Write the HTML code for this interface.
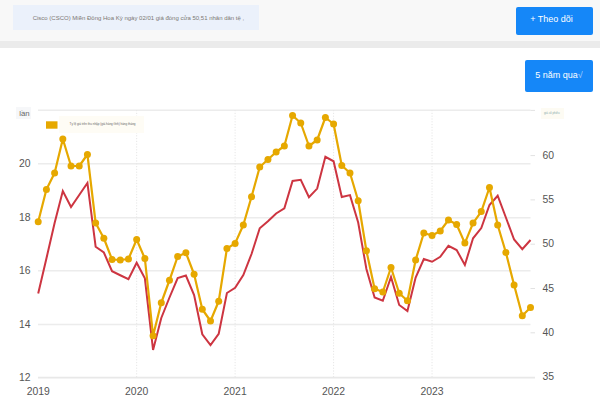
<!DOCTYPE html>
<html lang="vi"><head><meta charset="utf-8"><title>Cisco (CSCO)</title>
<style>
html,body{margin:0;padding:0;background:#fff;}
body{width:600px;height:404px;position:relative;overflow:hidden;font-family:"Liberation Sans",Arial,sans-serif;}
.hdr{position:absolute;left:0;top:0;width:600px;height:41px;background:#f8f8f8;}
.sep{position:absolute;left:0;top:41px;width:600px;height:6.5px;background:#ebebeb;}
.ttl{position:absolute;left:13px;top:5px;width:246px;height:25px;background:#ebf1fb;}
.btn{position:absolute;background:#1587f8;color:#fff;border-radius:2px;font-size:9px;text-align:center;white-space:nowrap;}
.b1{left:516px;top:6.5px;width:71px;padding-right:6px;height:28px;line-height:25.5px;}
.b2{left:525px;top:60px;width:68px;height:31.5px;line-height:30px;}
.b2 i{font-style:normal;opacity:.6}
svg{position:absolute;left:0;top:0;}
</style></head><body>
<div class="hdr"></div><div class="sep"></div>
<div class="ttl"></div>
<div class="btn b1">+ Theo dõi</div>
<div class="btn b2">5 năm qua<i>√</i></div>
<svg width="600" height="404" viewBox="0 0 600 404">
<text x="32.7" y="19.5" font-size="6" fill="#7c7873" font-family="Liberation Sans, Arial, sans-serif">Cisco (CSCO) Miền Đông Hoa Kỳ ngày 02/01 giá đóng cửa 50,51 nhân dân tệ ,</text>
<g stroke="#ececec" stroke-width="1.5"><line x1="38" x2="530.5" y1="110.2" y2="110.2"/><line x1="38" x2="530.5" y1="163.8" y2="163.8"/><line x1="38" x2="530.5" y1="217.7" y2="217.7"/><line x1="38" x2="530.5" y1="270.8" y2="270.8"/><line x1="38" x2="530.5" y1="324.4" y2="324.4"/></g>
<line x1="38" x2="535" y1="377.7" y2="377.7" stroke="#e8e8e8" stroke-width="1.8"/>
<g stroke="#e6e6e6" stroke-width="1" stroke-dasharray="1.2,1.6"><line x1="136.66" x2="136.66" y1="110" y2="377.5"/><line x1="235.12" x2="235.12" y1="110" y2="377.5"/><line x1="333.58" x2="333.58" y1="110" y2="377.5"/><line x1="432.04" x2="432.04" y1="110" y2="377.5"/></g>
<g stroke="#e2e2e2" stroke-width="1"><line x1="530.5" x2="535" y1="110.4" y2="110.4"/><line x1="530.5" x2="535" y1="155.6" y2="155.6"/><line x1="530.5" x2="535" y1="199.9" y2="199.9"/><line x1="530.5" x2="535" y1="244.2" y2="244.2"/><line x1="530.5" x2="535" y1="288.5" y2="288.5"/><line x1="530.5" x2="535" y1="332.8" y2="332.8"/></g>
<rect x="16" y="107" width="15" height="12" fill="#f6f7f9"/>
<text x="19.2" y="115.8" font-size="7.8" fill="#666" font-family="Liberation Sans, Arial, sans-serif">lần</text>
<rect x="59" y="116" width="85" height="17" fill="#fefcf5"/>
<rect x="46" y="121.3" width="11.5" height="7.4" fill="#e6a800"/>
<text x="69.6" y="125" font-size="3" fill="#666" font-family="Liberation Sans, Arial, sans-serif">Tỷ lệ giá trên thu nhập (giá hàng tĩnh) hàng tháng</text>
<rect x="541" y="108" width="23" height="11" fill="#fdfbf3"/>
<text x="544" y="114.2" font-size="2.9" fill="#8aa" font-family="Liberation Sans, Arial, sans-serif">giá cổ phiếu</text>
<g font-size="10.4" fill="#555" font-family="Liberation Sans, Arial, sans-serif"><text x="30.6" y="167.3" text-anchor="end">20</text><text x="30.6" y="221.0" text-anchor="end">18</text><text x="30.6" y="274.2" text-anchor="end">16</text><text x="30.6" y="327.6" text-anchor="end">14</text><text x="30.6" y="381.1" text-anchor="end">12</text><text x="542.6" y="158.6">60</text><text x="542.6" y="203.0">55</text><text x="542.6" y="247.3">50</text><text x="542.6" y="291.7">45</text><text x="542.6" y="336.0">40</text><text x="542.6" y="380.4">35</text><text x="38.20" y="394.9" text-anchor="middle">2019</text><text x="136.66" y="394.9" text-anchor="middle">2020</text><text x="235.12" y="394.9" text-anchor="middle">2021</text><text x="333.58" y="394.9" text-anchor="middle">2022</text><text x="432.04" y="394.9" text-anchor="middle">2023</text></g>
<polyline fill="none" stroke="#cd3541" stroke-width="2" stroke-linejoin="miter" points="38.20,293.40 46.41,258.50 54.61,223.00 62.82,191.10 71.02,207.00 79.22,195.00 87.43,183.00 95.64,246.75 103.84,252.50 112.05,271.25 120.25,275.25 128.45,279.25 136.66,262.75 144.87,278.40 153.07,350.00 161.28,318.00 169.48,297.50 177.69,278.00 185.89,275.50 194.10,295.00 202.30,334.25 210.50,345.00 218.71,333.75 226.92,293.00 235.12,287.75 243.32,275.00 251.53,254.00 259.74,228.25 267.94,221.25 276.14,213.50 284.35,208.25 292.56,181.00 300.76,179.75 308.96,197.25 317.17,188.60 325.38,156.75 333.58,161.25 341.78,197.00 349.99,195.10 358.19,222.50 366.40,269.00 374.61,297.50 382.81,300.75 391.01,277.00 399.22,305.00 407.43,311.00 415.63,277.50 423.83,259.00 432.04,261.75 440.25,256.75 448.45,245.75 456.65,250.00 464.86,265.00 473.06,238.25 481.27,228.10 489.47,205.00 497.68,195.75 505.88,217.50 514.09,239.50 522.30,249.25 530.50,240.00"/>
<polyline fill="none" stroke="#e6a800" stroke-width="2.2" stroke-linejoin="round" points="38.20,221.75 46.41,189.40 54.61,173.00 62.82,139.00 71.02,166.00 79.22,166.00 87.43,154.50 95.64,223.00 103.84,238.25 112.05,259.50 120.25,260.00 128.45,259.00 136.66,239.50 144.87,258.50 153.07,335.75 161.28,302.75 169.48,280.25 177.69,256.50 185.89,252.75 194.10,274.25 202.30,309.25 210.50,321.00 218.71,301.25 226.92,248.50 235.12,243.40 243.32,225.00 251.53,196.75 259.74,167.00 267.94,159.50 276.14,152.00 284.35,146.00 292.56,115.50 300.76,123.00 308.96,146.00 317.17,140.00 325.38,117.50 333.58,124.00 341.78,165.50 349.99,173.00 358.19,200.75 366.40,250.75 374.61,288.75 382.81,292.00 391.01,267.50 399.22,293.25 407.43,300.75 415.63,260.00 423.83,233.00 432.04,235.50 440.25,231.00 448.45,220.00 456.65,224.50 464.86,243.10 473.06,223.10 481.27,211.60 489.47,187.50 497.68,225.00 505.88,252.50 514.09,285.00 522.30,315.75 530.50,307.50"/>
<g fill="#e6a800"><circle cx="38.20" cy="221.75" r="3.5"/><circle cx="46.41" cy="189.40" r="3.5"/><circle cx="54.61" cy="173.00" r="3.5"/><circle cx="62.82" cy="139.00" r="3.5"/><circle cx="71.02" cy="166.00" r="3.5"/><circle cx="79.22" cy="166.00" r="3.5"/><circle cx="87.43" cy="154.50" r="3.5"/><circle cx="95.64" cy="223.00" r="3.5"/><circle cx="103.84" cy="238.25" r="3.5"/><circle cx="112.05" cy="259.50" r="3.5"/><circle cx="120.25" cy="260.00" r="3.5"/><circle cx="128.45" cy="259.00" r="3.5"/><circle cx="136.66" cy="239.50" r="3.5"/><circle cx="144.87" cy="258.50" r="3.5"/><circle cx="153.07" cy="335.75" r="3.5"/><circle cx="161.28" cy="302.75" r="3.5"/><circle cx="169.48" cy="280.25" r="3.5"/><circle cx="177.69" cy="256.50" r="3.5"/><circle cx="185.89" cy="252.75" r="3.5"/><circle cx="194.10" cy="274.25" r="3.5"/><circle cx="202.30" cy="309.25" r="3.5"/><circle cx="210.50" cy="321.00" r="3.5"/><circle cx="218.71" cy="301.25" r="3.5"/><circle cx="226.92" cy="248.50" r="3.5"/><circle cx="235.12" cy="243.40" r="3.5"/><circle cx="243.32" cy="225.00" r="3.5"/><circle cx="251.53" cy="196.75" r="3.5"/><circle cx="259.74" cy="167.00" r="3.5"/><circle cx="267.94" cy="159.50" r="3.5"/><circle cx="276.14" cy="152.00" r="3.5"/><circle cx="284.35" cy="146.00" r="3.5"/><circle cx="292.56" cy="115.50" r="3.5"/><circle cx="300.76" cy="123.00" r="3.5"/><circle cx="308.96" cy="146.00" r="3.5"/><circle cx="317.17" cy="140.00" r="3.5"/><circle cx="325.38" cy="117.50" r="3.5"/><circle cx="333.58" cy="124.00" r="3.5"/><circle cx="341.78" cy="165.50" r="3.5"/><circle cx="349.99" cy="173.00" r="3.5"/><circle cx="358.19" cy="200.75" r="3.5"/><circle cx="366.40" cy="250.75" r="3.5"/><circle cx="374.61" cy="288.75" r="3.5"/><circle cx="382.81" cy="292.00" r="3.5"/><circle cx="391.01" cy="267.50" r="3.5"/><circle cx="399.22" cy="293.25" r="3.5"/><circle cx="407.43" cy="300.75" r="3.5"/><circle cx="415.63" cy="260.00" r="3.5"/><circle cx="423.83" cy="233.00" r="3.5"/><circle cx="432.04" cy="235.50" r="3.5"/><circle cx="440.25" cy="231.00" r="3.5"/><circle cx="448.45" cy="220.00" r="3.5"/><circle cx="456.65" cy="224.50" r="3.5"/><circle cx="464.86" cy="243.10" r="3.5"/><circle cx="473.06" cy="223.10" r="3.5"/><circle cx="481.27" cy="211.60" r="3.5"/><circle cx="489.47" cy="187.50" r="3.5"/><circle cx="497.68" cy="225.00" r="3.5"/><circle cx="505.88" cy="252.50" r="3.5"/><circle cx="514.09" cy="285.00" r="3.5"/><circle cx="522.30" cy="315.75" r="3.5"/><circle cx="530.50" cy="307.50" r="3.5"/></g>
</svg>
</body></html>
